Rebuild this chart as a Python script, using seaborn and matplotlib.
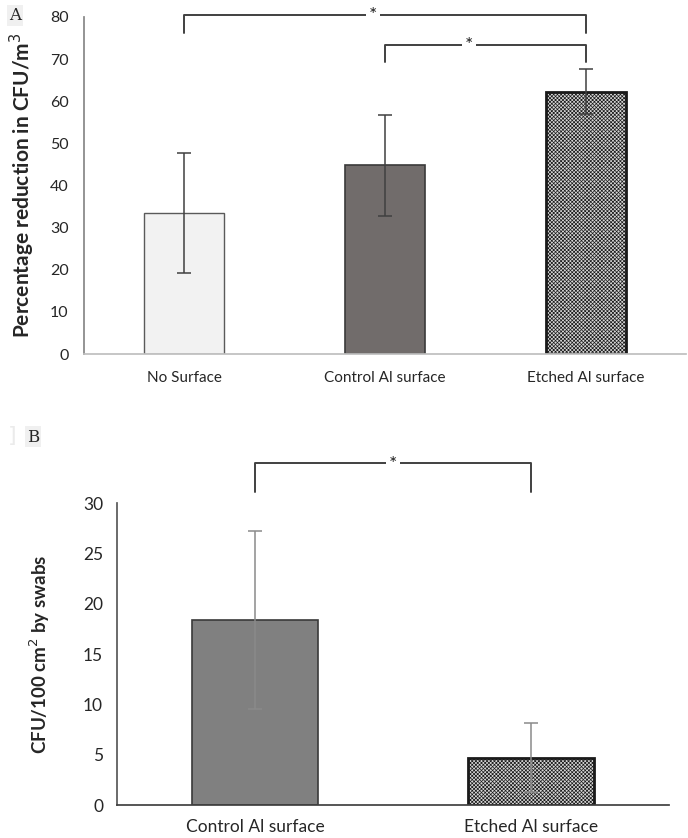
import matplotlib
matplotlib.use("Agg")
import matplotlib.pyplot as plt
import seaborn as sns
import pandas as pd

sns.set_theme(style="white")
plt.rcParams['font.family'] = ['Lato', 'DejaVu Sans']
plt.rcParams['hatch.linewidth'] = 0.5
plt.rcParams['hatch.color'] = '#8a8a8a'

# Panel A data
cats_a = ["No Surface", "Control Al surface", "Etched Al surface"]
vals_a = [33.5, 44.8, 62.3]
errs_a = [14.3, 12.0, 5.4]
yticks_a = [0, 10, 20, 30, 40, 50, 60, 70, 80]

# Panel B data
cats_b = ["Control Al surface", "Etched Al surface"]
vals_b = [18.4, 4.7]
errs_b = [8.85, 3.45]
yticks_b = [0, 5, 10, 15, 20, 25, 30]

W, H = 688, 838
fig = plt.figure(figsize=(W / 100, H / 100), dpi=100)

def ax_rect(l, t, r, b):
    return [l / W, 1 - b / H, (r - l) / W, (b - t) / H]

axA = fig.add_axes(ax_rect(84, 17, 686, 354))
axB = fig.add_axes(ax_rect(117, 503, 669, 805))

# ---------- Panel A ----------
dfA = pd.DataFrame({"cat": cats_a, "val": vals_a})
sns.barplot(data=dfA, x="cat", y="val", ax=axA, width=0.4, errorbar=None,
            palette=["#f2f2f2", "#716c6b", "#d6d6d6"], hue="cat", legend=False,
            saturation=1)
edgesA = ["#5a5a5a", "#3a3a3a", "#1a1a1a"]
lwsA = [1.0, 1.2, 2.0]
for i, p in enumerate(axA.patches):
    p.set_edgecolor(edgesA[i])
    p.set_linewidth(lwsA[i])
    if i == 2:
        p.set_hatch("xxxxxxxxx")
axA.errorbar(range(len(cats_a)), vals_a, yerr=errs_a, fmt="none",
             ecolor="#404040", elinewidth=1.1, capsize=5, capthick=1.1, zorder=5)
axA.set_xlim(-0.5, 2.5)
axA.set_ylim(0, 80)
axA.set_yticks(yticks_a)
axA.set_xticks([0, 1, 2])
axA.set_xticklabels(cats_a, fontsize=11)
axA.set_xticks([0.5, 1.5, 2.5], minor=True)
axA.tick_params(axis="x", which="major", length=0, pad=12)
axA.tick_params(axis="x", which="minor", length=5, color="#bfbfbf", width=1, direction="out")
axA.tick_params(axis="y", length=5, color="#868686", width=1, direction="out", labelsize=11.5, pad=6)
axA.set_xlabel("")
axA.set_ylabel("Percentage reduction in CFU/m$^3$", fontsize=15, fontweight="bold", labelpad=9)
for s in ["top", "right"]:
    axA.spines[s].set_visible(False)
axA.spines["left"].set_color("#868686")
axA.spines["bottom"].set_color("#bfbfbf")

bc = "#404040"
axA.plot([0, 0, 2, 2], [76.2, 80.5, 80.5, 76.2], color=bc, lw=1.4, clip_on=False)
axA.plot([1, 1, 2, 2], [69.4, 73.4, 73.4, 69.4], color=bc, lw=1.4, clip_on=False)
axA.text(0.94, 80.3, "*", ha="center", va="center", fontsize=14, color="#202020",
         bbox=dict(facecolor="white", edgecolor="none", pad=2), clip_on=False)
axA.text(1.42, 73.2, "*", ha="center", va="center", fontsize=14, color="#202020",
         bbox=dict(facecolor="white", edgecolor="none", pad=2), clip_on=False)

# ---------- Panel B ----------
dfB = pd.DataFrame({"cat": cats_b, "val": vals_b})
sns.barplot(data=dfB, x="cat", y="val", ax=axB, width=0.456, errorbar=None,
            palette=["#808080", "#d6d6d6"], hue="cat", legend=False, saturation=1)
edgesB = ["#3a3a3a", "#1a1a1a"]
lwsB = [1.2, 2.0]
for i, p in enumerate(axB.patches):
    p.set_edgecolor(edgesB[i])
    p.set_linewidth(lwsB[i])
    if i == 1:
        p.set_hatch("xxxxxxxxx")
axB.errorbar(range(len(cats_b)), vals_b, yerr=errs_b, fmt="none",
             ecolor="#8a8a8a", elinewidth=1.1, capsize=5, capthick=1.1, zorder=5)
axB.set_xlim(-0.5, 1.5)
axB.set_ylim(0, 30)
axB.set_yticks(yticks_b)
axB.set_xticks([0, 1])
axB.set_xticklabels(cats_b, fontsize=12.5)
axB.tick_params(axis="x", length=0, pad=10)
axB.tick_params(axis="y", length=0, labelsize=12.5, pad=10)
axB.set_xlabel("")
axB.set_ylabel("CFU/100 cm$^2$ by swabs", fontsize=13.5, fontweight="bold", labelpad=22)
for s in ["top", "right"]:
    axB.spines[s].set_visible(False)
axB.spines["left"].set_color("#595959")
axB.spines["bottom"].set_color("#404040")

axB.plot([0, 0, 1, 1], [31.1, 34.0, 34.0, 31.1], color=bc, lw=1.4, clip_on=False)
axB.text(0.5, 33.8, "*", ha="center", va="center", fontsize=14, color="#202020",
         bbox=dict(facecolor="white", edgecolor="none", pad=2), clip_on=False)

# Panel letters
fig.text(15 / W, 1 - 16 / H, "A", family="DejaVu Serif", fontsize=12, ha="center", va="center",
         bbox=dict(facecolor="#f0f0f0", edgecolor="none", pad=1.5))
fig.text(33 / W, 1 - 437 / H, "B", family="DejaVu Serif", fontsize=12, ha="center", va="center",
         bbox=dict(facecolor="#f0f0f0", edgecolor="none", pad=1.5))
fig.text(12 / W, 1 - 436 / H, "]", family="DejaVu Sans", fontsize=16, ha="center", va="center",
         color="#ebebeb")

fig.savefig("out.png", dpi=100)
